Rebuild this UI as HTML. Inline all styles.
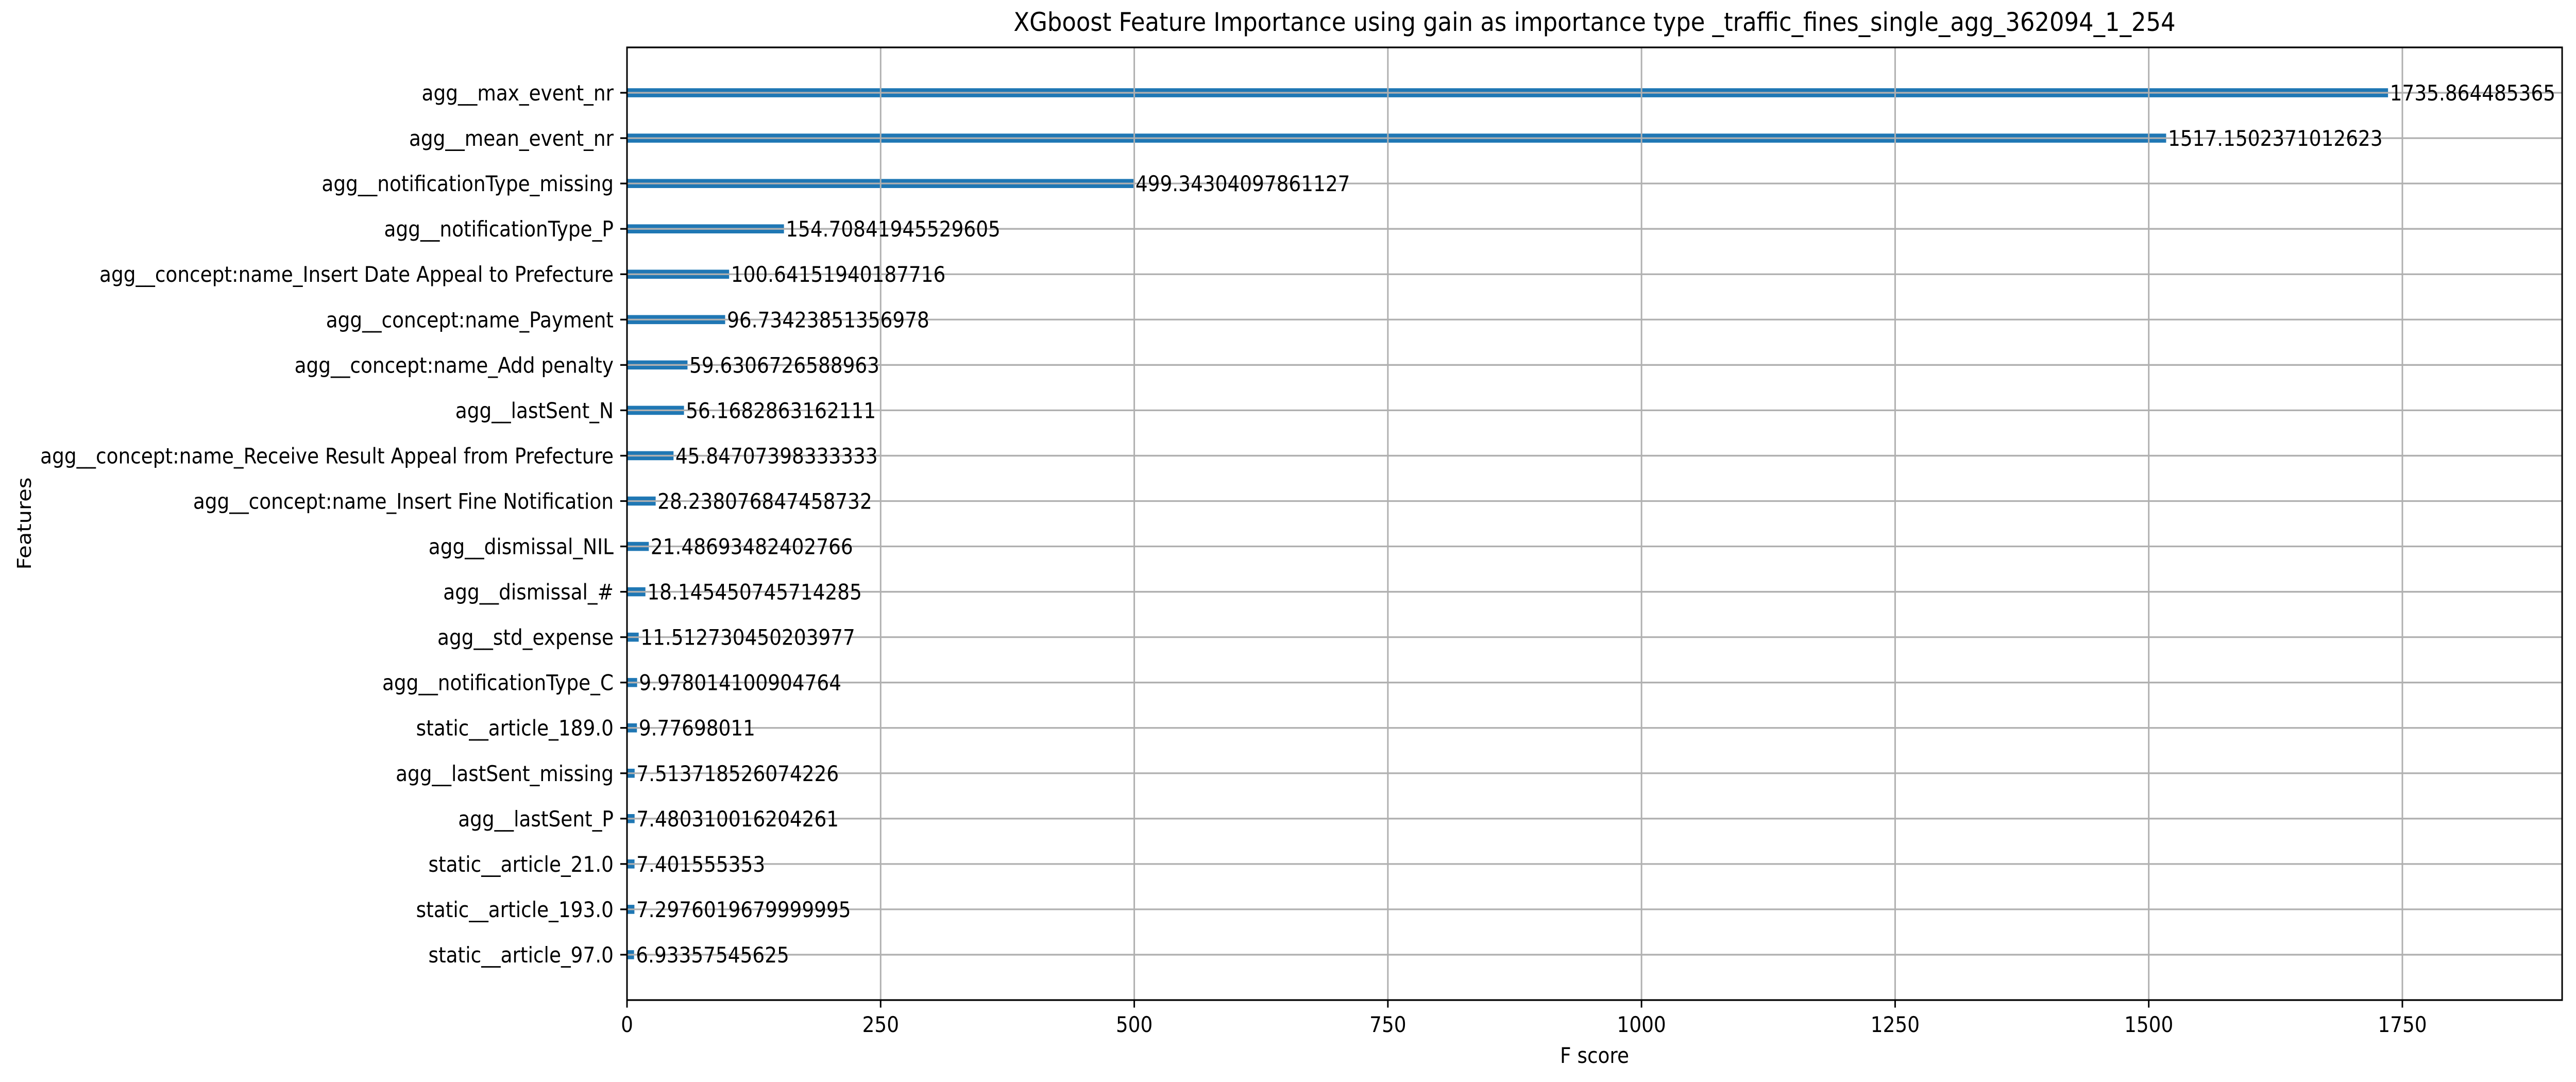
<!DOCTYPE html>
<html><head><meta charset="utf-8"><style>
html,body{margin:0;padding:0;background:#fff;overflow:hidden;width:100%;height:100%;}
svg{display:block;width:100vw;height:100vh;font-family:"DejaVu Sans","Liberation Sans",sans-serif;}
</style></head><body>
<svg id="chart" viewBox="0 0 5571 2100" preserveAspectRatio="none" xmlns="http://www.w3.org/2000/svg">
<rect width="5571" height="2100" fill="#fff"/>
</svg>
<script>
const features = ["agg__max_event_nr","agg__mean_event_nr","agg__notificationType_missing","agg__notificationType_P","agg__concept:name_Insert Date Appeal to Prefecture","agg__concept:name_Payment","agg__concept:name_Add penalty","agg__lastSent_N","agg__concept:name_Receive Result Appeal from Prefecture","agg__concept:name_Insert Fine Notification","agg__dismissal_NIL","agg__dismissal_#","agg__std_expense","agg__notificationType_C","static__article_189.0","agg__lastSent_missing","agg__lastSent_P","static__article_21.0","static__article_193.0","static__article_97.0"];
const scores = [1735.864485365,1517.1502371012623,499.34304097861127,154.70841945529605,100.64151940187716,96.73423851356978,59.6306726588963,56.1682863162111,45.84707398333333,28.238076847458732,21.48693482402766,18.145450745714285,11.512730450203977,9.978014100904764,9.77698011,7.513718526074226,7.480310016204261,7.401555353,7.2976019679999995,6.93357545625];
const scoreLabels = ["1735.864485365","1517.1502371012623","499.34304097861127","154.70841945529605","100.64151940187716","96.73423851356978","59.6306726588963","56.1682863162111","45.84707398333333","28.238076847458732","21.48693482402766","18.145450745714285","11.512730450203977","9.978014100904764","9.77698011","7.513718526074226","7.480310016204261","7.401555353","7.2976019679999995","6.93357545625"];
const xTicks = [0,250,500,750,1000,1250,1500,1750];

const L=1356,R=5541,T=92,B=1941;
const xMax=(R-L)/(548.5/250);
const X=v=>L+v/xMax*(R-L);
const Y=i=>T+(i+1)*(B-T)/(features.length+1);
const NS="http://www.w3.org/2000/svg";
const svg=document.getElementById('chart');
function mk(tag,attrs,text){const e=document.createElementNS(NS,tag);for(const k in attrs)e.setAttribute(k,attrs[k]);if(text!==undefined)e.textContent=text;svg.appendChild(e);return e;}

features.forEach((f,i)=>{
  const y=Y(i);
  const b=mk('rect',{x:X(0),y:y-8.8,width:X(scores[i])-X(0),height:17.6,fill:'#1f77b4'});
  
  
});
xTicks.forEach(t=>{
  const g=mk('line',{x1:X(t),x2:X(t),y1:T,y2:B,stroke:'#b0b0b0','stroke-width':3.3});
  
  
});
features.forEach((f,i)=>{
  const g=mk('line',{x1:L,x2:R,y1:Y(i),y2:Y(i),stroke:'#b0b0b0','stroke-width':3.3});
  
  
});
features.forEach((f,i)=>{
  const t=mk('text',{x:X(scores[i])+4,y:Y(i)+15,'font-size':41.7,fill:'#000'},scoreLabels[i]);
  
  
});
features.forEach((f,i)=>{
  const tk=mk('line',{x1:L-14.6,x2:L,y1:Y(i),y2:Y(i),stroke:'#000','stroke-width':3.3});
  
  
  const t=mk('text',{x:L-29,y:Y(i)+15,'font-size':41.7,'text-anchor':'end',fill:'#000'},f);
  
  
});
xTicks.forEach(v=>{
  const tk=mk('line',{x1:X(v),x2:X(v),y1:B,y2:B+14.6,stroke:'#000','stroke-width':3.3});
  
  
  const t=mk('text',{x:X(v),y:2003,'font-size':41.7,'text-anchor':'middle',fill:'#000'},String(v));
  
  
});
const fr=mk('rect',{x:L,y:T,width:R-L,height:B-T,fill:'none',stroke:'#000','stroke-width':3.3});


const ti=mk('text',{x:(L+R)/2,y:60,'font-size':50,'text-anchor':'middle',fill:'#000'},'XGboost Feature Importance using gain as importance type _traffic_fines_single_agg_362094_1_254');


const xl=mk('text',{x:(L+R)/2,y:2063,'font-size':41.7,'text-anchor':'middle',fill:'#000'},'F score');


const yl=mk('text',{x:0,y:0,'font-size':41.7,'text-anchor':'middle',fill:'#000',transform:'translate(67,1016) rotate(-90)'},'Features');


</script>
</body></html>
